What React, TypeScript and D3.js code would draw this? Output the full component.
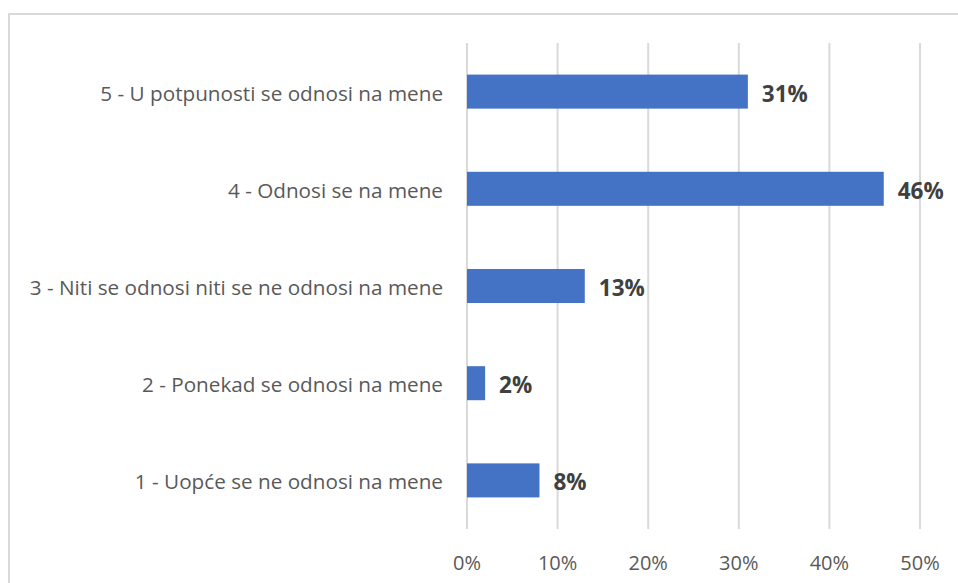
import React from "react";
import * as d3 from "d3";

const categories = [
  "5 - U potpunosti se odnosi na mene",
  "4 - Odnosi se na mene",
  "3 - Niti se odnosi niti se ne odnosi na mene",
  "2 - Ponekad se odnosi na mene",
  "1 - Uopće se ne odnosi na mene",
];
const values = [31, 46, 13, 2, 8];
const ticks = [0, 10, 20, 30, 40, 50];

const W = 958;
const H = 583;
const FONT = "'Open Sans', sans-serif";

export default function App() {
  const x = d3.scaleLinear().domain([0, 50]).range([467, 920]);
  const y = d3.scaleBand<string>().domain(categories).range([43, 529]).paddingInner(0.65).paddingOuter(0.325);
  return (
    <svg width={W} height={H} style={{ position: "absolute", left: 0, top: 0 }}>
      <rect x={0} y={0} width={W} height={H} fill="#fff" />
      <rect x={9} y={14} width={W + 20} height={H + 20} fill="none" stroke="#d9d9d9" strokeWidth={2} />
      {ticks.map((t) => (
        <line key={t} x1={x(t)} x2={x(t)} y1={43} y2={529} stroke="#d9d9d9" strokeWidth={2} />
      ))}
      {categories.map((c, i) => (
        <g key={c}>
          <rect x={x(0)} y={y(c)!} width={x(values[i]) - x(0)} height={y.bandwidth()} fill="#4472c4" />
          <text
            x={443}
            y={y(c)! + y.bandwidth() / 2 + 1}
            textAnchor="end"
            dominantBaseline="central"
            fontFamily={FONT}
            fontSize={20.7}
            fill="#595959"
          >
            {c}
          </text>
          <text
            x={x(values[i]) + 14}
            y={y(c)! + y.bandwidth() / 2 + 1.5}
            dominantBaseline="central"
            fontFamily={FONT}
            fontSize={22.5}
            fontWeight="bold"
            fill="#404040"
          >
            {values[i]}%
          </text>
        </g>
      ))}
      {ticks.map((t) => (
        <text
          key={t}
          x={x(t)}
          y={562}
          textAnchor="middle"
          dominantBaseline="central"
          fontFamily={FONT}
          fontSize={20}
          fill="#595959"
        >
          {t}%
        </text>
      ))}
    </svg>
  );
}
